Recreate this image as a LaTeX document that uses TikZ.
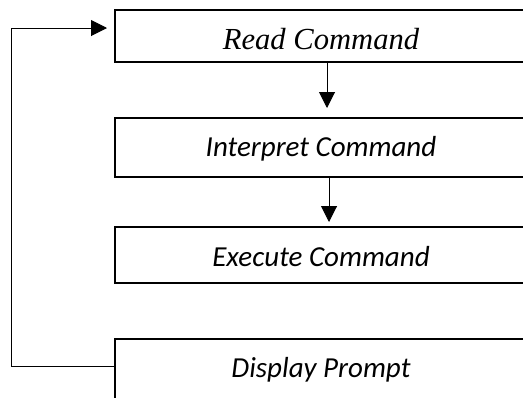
\documentclass[tikz,border=0pt]{standalone}
\usepackage{fontspec}
\setmainfont{Liberation Serif}
\newfontfamily\calibrifont{Carlito}
\usetikzlibrary{arrows.meta}

\begin{document}
\begin{tikzpicture}[
        x=0.5pt, y=-0.5pt,
        stepbox/.style={rectangle, draw=black, line width=1pt, minimum width=206pt, text depth=0pt, text height=9.3pt, font=\fontsize{14.5}{17}\selectfont\calibrifont\itshape},
        arrow/.style={-{Triangle[length=8pt,width=8pt]}, line width=0.5pt},
    ]
    \useasboundingbox (0,0) rectangle (523,397);
    \clip (0,0) rectangle (523,397);

    \node[stepbox, minimum height=26pt, text height=13.6pt, font=\fontsize{15.3}{18}\selectfont\itshape] (read) at (321,36) {Read Command};
    \node[stepbox, minimum height=29.5pt] (interp) at (321,147.5) {Interpret Command};
    \node[stepbox, minimum height=28pt, text height=11.8pt] (exec) at (321,255) {Execute Command};
    \node[stepbox, minimum height=35.5pt, text depth=6pt] (disp) at (321,374.5) {Display Prompt};

    \draw[arrow, shorten >=4.5pt] (read.south -| 327,0) -- (interp.north -| 327,0);
    \draw[arrow, shorten >=2pt] (interp.south -| 329,0) -- (exec.north -| 329,0);

    % back to the start
    \coordinate (back) at (107,28);
    \draw[arrow] ([yshift=4.25pt]disp.west) -- ++(-103,0) |- (back);

\end{tikzpicture}
\end{document}
